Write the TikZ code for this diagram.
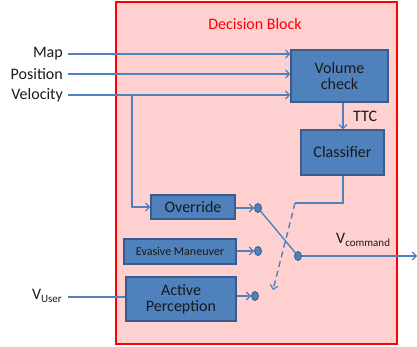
\documentclass[tikz,border=0pt]{standalone}
\usepackage{fontspec}
\setmainfont{Carlito}
\usetikzlibrary{arrows.meta,positioning}
\definecolor{boxblue}{HTML}{4F81BD}
\definecolor{boxedge}{HTML}{385D8A}
\definecolor{linkblue}{HTML}{4F81BD}
\definecolor{pinkbg}{RGB}{255,208,208}
\definecolor{txt}{HTML}{1A1A1A}
\tikzset{
  blk/.style={draw=boxedge, line width=1.2pt, fill=boxblue, inner sep=0pt, align=center,
    font=\fontsize{16}{18}\selectfont, text=txt},
  lnk/.style={draw=linkblue, line width=1.4pt},
  arr/.style={lnk, -{Straight Barb[length=4pt,width=8pt,line width=1.2pt]}},
  dot/.style={ellipse, draw=boxedge, line width=0.8pt, fill=boxblue, minimum width=7pt, minimum height=9pt, inner sep=0pt},
  lbl/.style={font=\fontsize{16}{18}\selectfont, text=txt, inner sep=0pt},
}
\usetikzlibrary{shapes.geometric}
\newcommand{\subtxt}[1]{\raisebox{-3pt}{\fontsize{11}{11}\selectfont #1}}
\begin{document}
\begin{tikzpicture}[x=1pt,y=-1pt]
\useasboundingbox (0,0) rectangle (417,347);
% decision block
\draw[red, line width=1.5pt, fill=pinkbg] (116,2) rectangle (397,344);
\node[lbl, text=red] (title) at (255,24) {Decision Block};
% blocks
\node[blk, minimum width=97pt, minimum height=52pt] (vc) at (339.5,76) {Volume\\[-2pt]check};
\node[blk, minimum width=83pt, minimum height=45pt] (cls) at (342.5,152.5) {Classifier};
\node[blk, minimum width=84pt, minimum height=24pt] (ovr) at (193,207) {Override};
\node[blk, minimum width=112pt, minimum height=25pt, font=\fontsize{12}{14}\selectfont] (eva) at (180,251.5) {Evasive Maneuver};
\node[blk, minimum width=110pt, minimum height=44pt] (act) at (181,299) {Active\\[-2pt]Perception};
% dots
\node[dot] (d1) at (258,208) {};
\node[dot] (d2) at (258,251) {};
\node[dot] (d3) at (255,296) {};
\node[dot] (sw) at (298,256) {};
% input labels
\node[lbl, anchor=east] (map) at (63,54) {Map};
\node[lbl, anchor=east] (pos) at (63,74) {Position};
\node[lbl, anchor=east] (vel) at (63,95) {Velocity};
\node[lbl, anchor=east] (vu) at (62,296) {V\subtxt{User}};
\coordinate (mapS) at (68,54);
\coordinate (posS) at (68,74);
\coordinate (velS) at (68,95);
\coordinate (vuS) at (68,297);
\coordinate (br) at (132,95);
\coordinate (out) at (417,256);
\coordinate (c1) at (343,203);
\coordinate (c2) at (295,203);
\coordinate (dashend) at (273,290);
% connectors
\draw[arr] (mapS) -- (mapS -| vc.west);
\draw[arr] (posS) -- (posS -| vc.west);
\draw[arr] (velS) -- (velS -| vc.west);
\draw[arr] (br) -- (br |- ovr.west) -- (ovr.west);
\draw[lnk] (vuS) -- (vuS -| act.west);
\draw[arr] (vc.south -| c1) -- (cls.north -| c1);
\node[lbl, anchor=west] (ttc) at (353,116) {TTC};
\draw[lnk] (cls.south -| c1) -- (c1) -- (c2);
\draw[arr, dashed, dash pattern=on 6pt off 4pt] (c2) -- (dashend);
\draw[arr] (ovr.east |- d1) -- (d1.west);
\draw[arr] (eva.east |- d2) -- (d2.west);
\draw[arr] (act.east |- d3) -- (d3.west);
\draw[lnk] (d1) -- (sw);
\draw[arr] (sw.east) -- (out);
\node[lbl, anchor=south west] (vcmd) at (336,247) {V\subtxt{command}};
\end{tikzpicture}
\end{document}
